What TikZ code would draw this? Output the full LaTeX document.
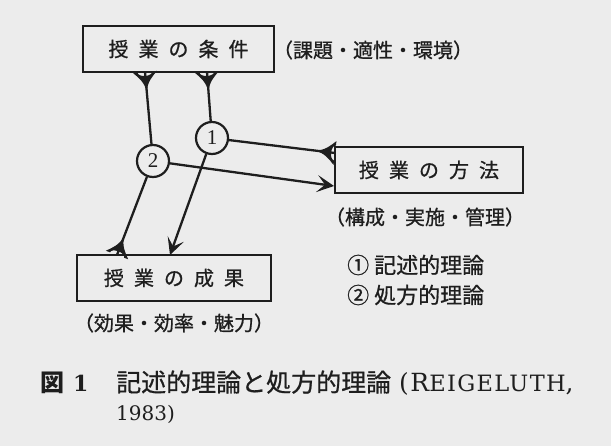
\documentclass[tikz,border=0pt]{standalone}
\usepackage{fontspec}
\setmainfont{Liberation Serif}
\newfontfamily\jp{Noto Sans CJK JP}
\newfontfamily\jpm{Noto Sans CJK JP}[FakeBold=0.8]
\newfontfamily\capfont{DejaVu Serif}
\newfontfamily\capwide{DejaVu Serif}[LetterSpace=6]
\usetikzlibrary{arrows.meta}
\definecolor{paper}{RGB}{236,236,236}
\definecolor{ink}{RGB}{30,30,30}
\tikzset{
  boxnode/.style={draw=ink, line width=2.5pt, inner sep=0pt, minimum height=46pt, text=ink, font=\jpm\fontsize{20}{20}\selectfont},
  numcirc/.style={circle, draw=ink, line width=2.2pt, minimum size=32pt, inner sep=0pt, text=ink, font=\fontsize{21}{21}\selectfont},
  conn/.style={draw=ink, line width=2.3pt},
  arr/.style={conn, -{Stealth[length=17pt,width=17pt,inset=8pt]}},
  tailpic/.pic={\fill[ink] (-20,0) .. controls (-10,1.4) and (-5,7) .. (0,12) -- (0,7.5) arc[start angle=90,end angle=270,x radius=4,y radius=7.5] -- (0,-12) .. controls (-5,-7) and (-10,-1.4) .. (-20,0) -- cycle;},
  lbl/.style={text=ink, inner sep=0pt, font=\jpm\fontsize{20}{20}\selectfont},
}
\begin{document}
\begin{tikzpicture}[x=1pt,y=-1pt]
\fill[paper] (0,0) rectangle (611,446);
\useasboundingbox (0,0) rectangle (611,446);

% boxes
\node[boxnode, minimum width=191pt] (cond) at (178.5,49) {授\hspace{10pt}業\hspace{10pt}の\hspace{10pt}条\hspace{10pt}件};
\node[boxnode, minimum width=188pt] (meth) at (429,170) {授\hspace{10pt}業\hspace{10pt}の\hspace{10pt}方\hspace{10pt}法};
\node[boxnode, minimum width=194pt] (res) at (174,278) {授\hspace{10pt}業\hspace{10pt}の\hspace{10pt}成\hspace{10pt}果};

% labels
\node[lbl] (condlbl) at (373,50) {（課題・適性・環境）};
\node[lbl] (methlbl) at (425,217) {（構成・実施・管理）};
\node[lbl] (reslbl) at (174,323) {（効果・効率・魅力）};

% circles
\node[numcirc] (n1) at (212,138) {1};
\node[numcirc] (n2) at (153,161) {2};

% connector end points
\coordinate (tA) at (145,72);
\coordinate (tB) at (207,72);
\coordinate (tC) at (335,153);
\coordinate (aD) at (334,186);
\coordinate (aE) at (170,255);
\coordinate (tF) at (117,255);

\draw[conn] (n2) -- (tA) pic[pos=1, sloped, allow upside down] {tailpic};
\draw[conn] (n1) -- (tB) pic[pos=1, sloped, allow upside down] {tailpic};
\draw[conn] (n1) -- (tC) pic[pos=1, sloped, allow upside down] {tailpic};
\draw[arr] (n2) -- (aD);
\draw[arr] (n1) -- (aE);
\draw[conn] (n2) -- (tF) pic[pos=1, sloped, allow upside down] {tailpic};

% legend
\node[lbl, anchor=west, font=\jpm\fontsize{22}{22}\selectfont] (leg1) at (347,265) {①\hspace{5pt}記述的理論};
\node[lbl, anchor=west, font=\jpm\fontsize{22}{22}\selectfont] (leg2) at (347,295) {②\hspace{5pt}処方的理論};

% caption
\node[anchor=west, inner sep=0pt, text=ink] (fig) at (40,383) {{\jp\fontsize{24}{24}\selectfont\bfseries 図}\hspace{9pt}{\capfont\fontsize{22}{22}\selectfont\bfseries 1}};
\node[anchor=west, inner sep=0pt, text=ink] (cap1) at (116,383) {{\jpm\fontsize{25}{25}\selectfont 記述的理論と処方的理論}\hspace{8pt}{\capwide\fontsize{25}{25}\selectfont (R{\fontsize{22.5}{22.5}\selectfont EIGELUTH},}};
\node[anchor=west, inner sep=0pt, text=ink] (cap2) at (116,414) {\capfont\fontsize{20}{20}\selectfont 1983)};
\end{tikzpicture}
\end{document}
